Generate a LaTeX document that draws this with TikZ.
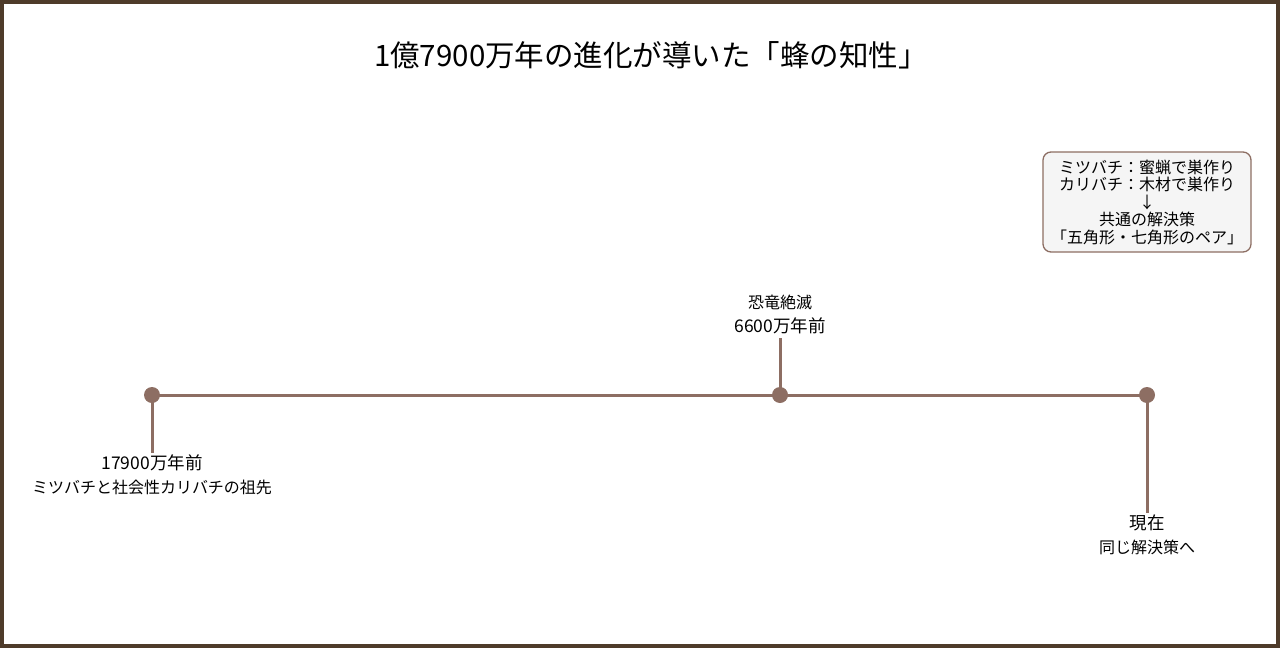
\documentclass[tikz,border=0pt]{standalone}
\usepackage{fontspec}
\setmainfont{Noto Sans CJK JP}
\definecolor{tl}{HTML}{8D6E63}
\definecolor{frame}{HTML}{4E3B2A}
\definecolor{boxfill}{HTML}{F5F5F5}
\tikzset{
  dot/.style={circle,fill=tl,inner sep=0pt,minimum size=16pt},
  tick/.style={draw=tl,line width=3pt},
  datelbl/.style={font=\fontsize{17.5}{20}\selectfont,inner sep=0pt,anchor=center},
  evlbl/.style={font=\fontsize{16}{18}\selectfont,inner sep=0pt,anchor=center},
  notebox/.style={draw=tl,line width=1.3pt,fill=boxfill,rounded corners=8pt,align=center,
    font=\fontsize{16}{17.5}\selectfont,minimum width=208pt,minimum height=100pt,inner sep=2pt}
}
\begin{document}
\begin{tikzpicture}[x=1pt,y=-1pt]
\path[use as bounding box] (0,0) rectangle (1280,648);
\draw[frame,line width=4pt] (2,2) rectangle (1278,646);
\node[font=\fontsize{29.5}{32}\selectfont,inner sep=0pt] (title) at (651,55) {1億7900万年の進化が導いた「蜂の知性」};
% timeline
\coordinate (p1) at (152,395);
\coordinate (p2) at (780,395);
\coordinate (p3) at (1147,395);
\coordinate (t1) at (152,453);
\coordinate (t2) at (780,338);
\coordinate (t3) at (1147,513);
\draw[tick] (p1) -- (p3);
\draw[tick] (p1) -- (t1);
\draw[tick] (p2) -- (t2);
\draw[tick] (p3) -- (t3);
\node[dot] (d1) at (p1) {};
\node[dot] (d2) at (p2) {};
\node[dot] (d3) at (p3) {};
% labels
\node[datelbl] (l1a) at (152,463) {17900万年前};
\node[evlbl] (l1b) at (152,487) {ミツバチと社会性カリバチの祖先};
\node[evlbl] (l2a) at (780,302) {恐竜絶滅};
\node[datelbl] (l2b) at (780,326) {6600万年前};
\node[datelbl] (l3a) at (1147,523) {現在};
\node[evlbl] (l3b) at (1147,547) {同じ解決策へ};
% note box
\node[notebox] (note) at (1147,202) {ミツバチ：蜜蝋で巣作り\\カリバチ：木材で巣作り\\↓\\共通の解決策\\「五角形・七角形のペア」};
\end{tikzpicture}
\end{document}
